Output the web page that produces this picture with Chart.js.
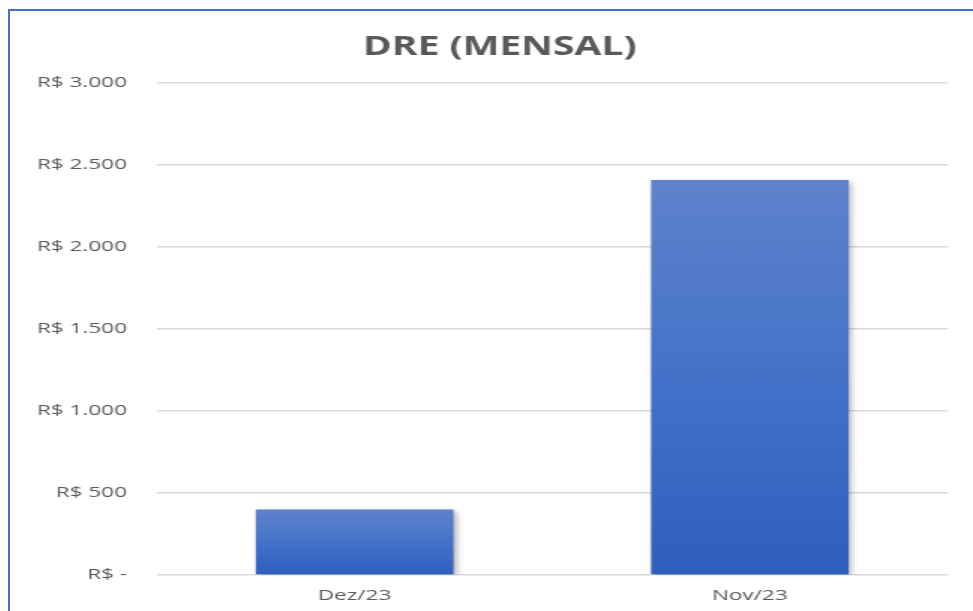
<!DOCTYPE html>
<html>
<head>
<meta charset="utf-8">
<script src="https://cdn.jsdelivr.net/npm/chart.js@4/dist/chart.umd.min.js"></script>
<style>
  html, body { margin: 0; padding: 0; background: #fff; overflow: hidden; }
  #frame {
    position: absolute; left: 8px; top: 9px; width: 1000px; height: 640px;
    border-left: 2px solid #4472c4; border-top: 2px solid #4472c4;
  }
  /* o grafico original aparece esticado na horizontal */
  #wrap {
    position: absolute; left: -3px; top: 0; width: 657px; height: 612px;
    transform: scaleX(1.5); transform-origin: 0 0;
  }
</style>
</head>
<body>
<div id="frame"><div id="wrap"><canvas id="dre"></canvas></div></div>
<script>
const meses = ['Dez/23', 'Nov/23'];
const valores = [400, 2410];
const tituloGrafico = 'DRE (MENSAL)';

// formata no padrao brasileiro, zero aparece como "R$ -"
function formatReal(v) {
  if (v === 0) return 'R$ -';
  return 'R$ ' + String(v).replace(/\B(?=(\d{3})+(?!\d))/g, '.');
}

const sombraBarras = {
  id: 'sombraBarras',
  beforeDatasetsDraw(chart) {
    const ctx = chart.ctx;
    ctx.save();
    ctx.shadowColor = 'rgba(0,0,0,0.35)';
    ctx.shadowBlur = 5;
    ctx.shadowOffsetX = 2;
    ctx.shadowOffsetY = 2;
  },
  afterDatasetsDraw(chart) {
    chart.ctx.restore();
  }
};

function corBarra(context) {
  const chart = context.chart;
  const y = chart.scales.y;
  if (!y || !chart.chartArea || context.parsed === undefined) return '#4472c4';
  const topo = y.getPixelForValue(context.parsed.y);
  const base = y.getPixelForValue(0);
  if (!isFinite(topo) || !isFinite(base) || topo === base) return '#4472c4';
  const g = chart.ctx.createLinearGradient(0, topo, 0, base);
  g.addColorStop(0, '#5f82cb');
  g.addColorStop(0.5, '#4472c9');
  g.addColorStop(1, '#2e5fbd');
  return g;
}

const ctx = document.getElementById('dre').getContext('2d');
const grafico = new Chart(ctx, {
  type: 'bar',
  data: {
    labels: meses,
    datasets: [{
      label: 'DRE',
      data: valores,
      backgroundColor: corBarra,
      borderWidth: 0,
      barPercentage: 0.5,
      categoryPercentage: 1.0
    }]
  },
  plugins: [sombraBarras],
  options: {
    responsive: true,
    maintainAspectRatio: false,
    animation: false,
    layout: { padding: { left: 0, right: 0, top: 21, bottom: 6 } },
    plugins: {
      legend: { display: false },
      tooltip: { enabled: false },
      title: {
        display: true,
        text: tituloGrafico,
        color: '#595959',
        font: { family: 'Open Sans', size: 26, weight: 'bold' },
        padding: { top: 0, bottom: 20 }
      }
    },
    scales: {
      y: {
        min: 0,
        max: 3000,
        ticks: {
          stepSize: 500,
          color: '#595959',
          font: { family: 'Open Sans', size: 15 },
          padding: 20,
          callback: (v) => formatReal(v)
        },
        grid: { color: '#d9d9d9', lineWidth: 1.5, drawTicks: false },
        border: { display: false }
      },
      // eixo vazio a direita so para deixar a margem (o titulo fica centrado no quadro todo)
      margemDireita: {
        position: 'right',
        display: true,
        ticks: { display: false },
        grid: { display: false, drawTicks: false },
        border: { display: false },
        afterFit: (scale) => { scale.width = 30; }
      },
      x: {
        ticks: {
          color: '#595959',
          font: { family: 'Open Sans', size: 15 },
          padding: 12
        },
        grid: { display: false, drawTicks: false },
        border: { display: false }
      }
    }
  }
});
</script>
</body>
</html>
